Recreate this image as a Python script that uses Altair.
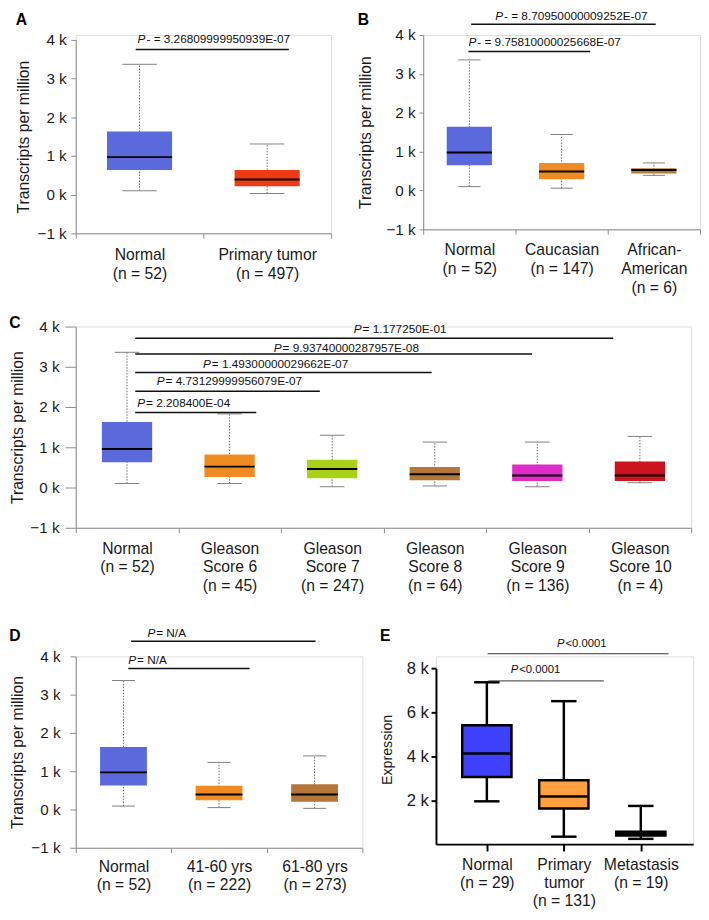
import json
import altair as alt
import pandas as pd

FONT = "Liberation Sans"
NB = "\u00a0"

# ---------------- Panel A ----------------
A_LABELS = [["Normal", "(n = 52)"], ["Primary tumor", "(n = 497)"]]
A_LOW = [100, 30]
A_Q1 = [640, 220]
A_MED = [970, 390]
A_Q3 = [1630, 640]
A_HIGH = [3370, 1310]
A_COLORS = ["#5A69DC", "#EE3B14"]
A_P_HEAD = ["P"]
A_P_TEXT = ["- = 3.26809999950939E-07"]
A_P_FROM = [0.47]
A_P_TO = [1.67]
A_P_LEVEL = [3750]
A_P_TX = [0.485]
A_P_TY = [4025]

# ---------------- Panel B ----------------
B_LABELS = [["Normal", "(n = 52)"], ["Caucasian", "(n = 147)"], ["African-", "American", "(n = 6)"]]
B_LOW = [100, 60, 390]
B_Q1 = [650, 290, 440]
B_MED = [980, 490, 530]
B_Q3 = [1640, 710, 570]
B_HIGH = [3360, 1440, 710]
B_COLORS = ["#5A69DC", "#F08A22", "#BC7838"]
B_P_HEAD = ["P", "P"]
B_P_TEXT = ["- = 8.70950000009252E-07", "- = 9.75810000025668E-07"]
B_P_FROM = [0.52, 0.49]
B_P_TO = [2.52, 1.81]
B_P_LEVEL = [4277, 3579]
B_P_TX = [0.78, 0.49]
B_P_TY = [4486, 3816]

# ---------------- Panel C ----------------
C_LABELS = [["Normal", "(n = 52)"],
            ["Gleason", "Score 6", "(n = 45)"],
            ["Gleason", "Score 7", "(n = 247)"],
            ["Gleason", "Score 8", "(n = 64)"],
            ["Gleason", "Score 9", "(n = 136)"],
            ["Gleason", "Score 10", "(n = 4)"]]
C_LOW = [100, 100, 20, 40, 20, 120]
C_Q1 = [630, 260, 230, 180, 160, 160]
C_MED = [955, 520, 460, 330, 300, 300]
C_Q3 = [1630, 820, 690, 510, 570, 650]
C_HIGH = [3360, 1830, 1300, 1130, 1130, 1270]
C_COLORS = ["#5A69DC", "#F08A22", "#A8D016", "#B5763A", "#DE2CC8", "#CC1421"]
C_P_HEAD = ["P", "P", "P", "P", "P"]
C_P_TEXT = [NB + "= 2.208400E-04", NB + "= 4.73129999956079E-07", NB + "= 1.49300000029662E-07",
            NB + "= 9.93740000287957E-08", NB + "= 1.177250E-01"]
C_P_FROM = [0.58, 0.58, 0.58, 0.58, 0.58]
C_P_TO = [1.76, 2.38, 3.47, 4.45, 5.24]
C_P_LEVEL = [1863, 2394, 2858, 3318, 3709]
C_P_TX = [0.60, 0.79, 1.24, 1.93, 2.71]
C_P_TY = [2108, 2638, 3061, 3477, 3941]

# ---------------- Panel D ----------------
D_LABELS = [["Normal", "(n = 52)"], ["41-60 yrs", "(n = 222)"], ["61-80 yrs", "(n = 273)"]]
D_LOW = [90, 50, 30]
D_Q1 = [630, 240, 200]
D_MED = [970, 390, 390]
D_Q3 = [1630, 620, 660]
D_HIGH = [3370, 1230, 1400]
D_COLORS = ["#5A69DC", "#F08A22", "#B5763A"]
D_P_HEAD = ["P", "P"]
D_P_TEXT = [NB + "= N/A", NB + "= N/A"]
D_P_FROM = [0.58, 0.55]
D_P_TO = [2.51, 1.82]
D_P_LEVEL = [4396, 3684]
D_P_TX = [0.75, 0.55]
D_P_TY = [4609, 3915]

# ---------------- Panel E ----------------
E_LABELS = [["Normal", "(n = 29)"], ["Primary", "tumor", "(n = 131)"], ["Metastasis", "(n = 19)"]]
E_LOW = [1950, 340, 240]
E_Q1 = [3060, 1620, 390]
E_MED = [4130, 2170, 480]
E_Q3 = [5410, 2910, 570]
E_HIGH = [7370, 6510, 1740]
E_COLORS = ["#4040FF", "#FFA040", "#202020"]
E_P_HEAD = ["P", "P"]
E_P_TEXT = ["<0.0001", "<0.0001"]
E_P_FROM = [0.01, 0.02]
E_P_TO = [2.36, 1.52]
E_P_LEVEL = [8670, 7433]
E_P_TX = [0.91, 0.31]
E_P_TY = [9116, 7910]


def panel(letter, labels, low, q1, med, q3, high, colors,
          p_head, p_text, p_from, p_to, p_level, p_tx, p_ty, s):
    n = len(labels)
    boxes = pd.DataFrame({"idx": list(range(n)), "low": low, "q1": q1, "med": med,
                          "q3": q3, "high": high, "color": colors})
    ann = pd.DataFrame({"x1": p_from, "x2": p_to, "y": p_level, "tx": p_tx,
                        "ty": p_ty, "head": p_head, "tail": p_text})

    if s["banded"]:
        shift = 0.5
        centers = [i + 0.5 for i in range(n)]
        xdomain = [0, n]
        xvalues = sorted(list(range(n + 1)) + centers)
        tick_op = {"condition": {"test": "datum.value % 1 !== 0", "value": 0}, "value": 1}
    else:
        shift = 0
        centers = list(range(n))
        xdomain = s["xdomain"]
        xvalues = centers
        tick_op = 1
    label_expr = "".join(f"datum.value === {c} ? {json.dumps(l)} : " for c, l in zip(centers, labels)) + "''"

    top = s.get("top", 0)
    total_h = s["height"] + top

    axcol = s["axcolor"]
    xaxis = alt.Axis(values=xvalues, labelExpr=label_expr, tickOpacity=tick_op,
                     tickSize=s["xtick"], labelPadding=s["xpad"], labelFontSize=16,
                     labelLineHeight=s["lh"], labelBaseline="top", labelOverlap=False,
                     labelFlush=False, labelBound=False, domainColor=axcol, tickColor=axcol,
                     domainWidth=s["aw"], tickWidth=s["aw"], labelColor="#1a1a1a",
                     labelFont=FONT, grid=False, title=None)
    yaxis = alt.Axis(title=s["ytitle"], values=s["yvalues"],
                     labelExpr="format(datum.value / 1000, 'd') + ' k'",
                     titleX=s["titleX"], titleY=top + s["height"] / 2 + s.get("titleYoff", 0),
                     titleBaseline="bottom", titleFontSize=s["tfs"], titleFontWeight="normal",
                     titleColor="#1a1a1a", titleFont=FONT, labelFont=FONT,
                     labelFontSize=s["ylfs"], labelColor="#1a1a1a", tickSize=s["ytick"],
                     labelPadding=s["ypad"], domainColor=axcol, tickColor=axcol,
                     domainWidth=s["aw"], tickWidth=s["aw"], grid=False, labelOverlap=False)
    xscale = alt.Scale(domain=xdomain, nice=False, zero=False)
    yscale = alt.Scale(domain=s["ydomain"], nice=False, zero=False, range=[total_h, top])

    def X(f):
        return alt.X(f"{f}:Q", scale=xscale, axis=xaxis)

    def Y(f):
        return alt.Y(f"{f}:Q", scale=yscale, axis=yaxis)

    hw, cw = s["hw"], s["cw"]
    base = alt.Chart(boxes).transform_calculate(
        xc=f"datum.idx + {shift}",
        bl=f"datum.idx + {shift} - {hw}",
        br=f"datum.idx + {shift} + {hw}",
        cl=f"datum.idx + {shift} - {cw}",
        cr=f"datum.idx + {shift} + {cw}",
    )
    whisk_kw = dict(color=s["wcolor"], strokeWidth=s["ww"])
    if s.get("wdash"):
        whisk_kw["strokeDash"] = s["wdash"]
    whisker = base.mark_rule(**whisk_kw).encode(x=X("xc"), y=Y("low"), y2=alt.Y2("high"))
    cap_top = base.mark_rule(color=s["ccolor"], strokeWidth=s["cwid"]).encode(
        x=X("cl"), x2=alt.X2("cr"), y=Y("high"))
    cap_bot = base.mark_rule(color=s["ccolor"], strokeWidth=s["cwid"]).encode(
        x=X("cl"), x2=alt.X2("cr"), y=Y("low"))
    box_kw = {}
    if s.get("bstroke"):
        box_kw = dict(stroke=s["bstroke"], strokeWidth=s["bsw"])
    box = base.mark_rect(**box_kw).encode(
        x=X("bl"), x2=alt.X2("br"), y=Y("q1"), y2=alt.Y2("q3"),
        fill=alt.Fill("color:N", scale=None))
    median = base.mark_rule(color="black", strokeWidth=s["mw"]).encode(
        x=X("bl"), x2=alt.X2("br"), y=Y("med"))

    annb = alt.Chart(ann)
    pline = annb.mark_rule(color=s["pcolor"], strokeWidth=s["pw"]).encode(
        x=X("x1"), x2=alt.X2("x2"), y=Y("y"))
    phead = annb.mark_text(align="left", baseline="middle", fontStyle="italic",
                           fontSize=s["pfs"], font=FONT, color="#111").encode(
        x=X("tx"), y=Y("ty"), text="head:N")
    ptail = annb.mark_text(align="left", baseline="middle", fontSize=s["pfs"], font=FONT,
                           dx=s["pfs"] * 0.667 + 1, color="#111").encode(
        x=X("tx"), y=Y("ty"), text="tail:N")

    return alt.layer(whisker, cap_top, cap_bot, box, median, pline, phead, ptail).properties(
        width=s["width"], height=total_h,
        title=alt.Title(letter, anchor="start", frame="bounds", fontSize=16, fontWeight="bold",
                        font=FONT, color="black", baseline="alphabetic",
                        offset=-(s["ldy"] + 15)),
    )


TPM = "Transcripts per million"
KV = [-1000, 0, 1000, 2000, 3000, 4000]
common = dict(banded=True, ytitle=TPM, yvalues=KV, ydomain=[-1000, 4000], axcolor="#8c8c8c",
              aw=1, tfs=16, ylfs=15.5, lh=19, wcolor="#6a6a6a", ww=1, wdash=[1.5, 1.5],
              ccolor="#808080", cwid=1, mw=2, pcolor="#111", pw=1.5, pfs=12)

sA = dict(common, width=260, height=197, top=5, hw=0.255, cw=0.135, titleX=-45, ytick=5,
          ypad=4.7, xtick=5, xpad=9, ldy=-7.3)
sB = dict(common, width=282, height=198, hw=0.245, cw=0.12, titleX=-50.7, ytick=4.3, ypad=4,
          xtick=5, xpad=8, ldy=16)
sC = dict(common, width=627, height=205, hw=0.245, cw=0.12, titleX=-51.7, ytick=11, ypad=6,
          xtick=5, xpad=8, ldy=9.3)
sD = dict(common, width=292, height=195, hw=0.245, cw=0.12, titleX=-51.7, ytick=6, ypad=10,
          xtick=5, xpad=5.7, ldy=15.5)
sE = dict(banded=False, xdomain=[-0.661, 2.68], ytitle="Expression",
          yvalues=[2000, 4000, 6000, 8000], ydomain=[0, 8000], axcolor="black", aw=2,
          tfs=14.5, ylfs=17, lh=18.5, wcolor="black", ww=2.5, ccolor="black", cwid=2.5,
          mw=2.5, pcolor="#333", pw=1, pfs=11.5, bstroke="black", bsw=2.5,
          width=262, height=179, top=12.3, hw=0.32, cw=0.165, titleX=-42, titleYoff=-7,
          ytick=5, ypad=2.7, xtick=7, xpad=6, ldy=4.25)

pA = panel("A", A_LABELS, A_LOW, A_Q1, A_MED, A_Q3, A_HIGH, A_COLORS,
           A_P_HEAD, A_P_TEXT, A_P_FROM, A_P_TO, A_P_LEVEL, A_P_TX, A_P_TY, sA)
pB = panel("B", B_LABELS, B_LOW, B_Q1, B_MED, B_Q3, B_HIGH, B_COLORS,
           B_P_HEAD, B_P_TEXT, B_P_FROM, B_P_TO, B_P_LEVEL, B_P_TX, B_P_TY, sB)
pC = panel("C", C_LABELS, C_LOW, C_Q1, C_MED, C_Q3, C_HIGH, C_COLORS,
           C_P_HEAD, C_P_TEXT, C_P_FROM, C_P_TO, C_P_LEVEL, C_P_TX, C_P_TY, sC)
pD = panel("D", D_LABELS, D_LOW, D_Q1, D_MED, D_Q3, D_HIGH, D_COLORS,
           D_P_HEAD, D_P_TEXT, D_P_FROM, D_P_TO, D_P_LEVEL, D_P_TX, D_P_TY, sD)
pE = panel("E", E_LABELS, E_LOW, E_Q1, E_MED, E_Q3, E_HIGH, E_COLORS,
           E_P_HEAD, E_P_TEXT, E_P_FROM, E_P_TO, E_P_LEVEL, E_P_TX, E_P_TY, sE)

row1 = alt.hconcat(pA, pB, spacing=25)
row3 = alt.hconcat(pD, pE, spacing=16)
top_part = alt.vconcat(row1, pC, spacing=18)
chart = alt.vconcat(top_part, row3, spacing=32).properties(
    padding={"left": 0, "top": -7, "right": 0, "bottom": 0},
    background="white",
).configure_view(stroke=None).configure(font=FONT)

chart.save("out.html", embed_options={"renderer": "svg", "actions": False})
